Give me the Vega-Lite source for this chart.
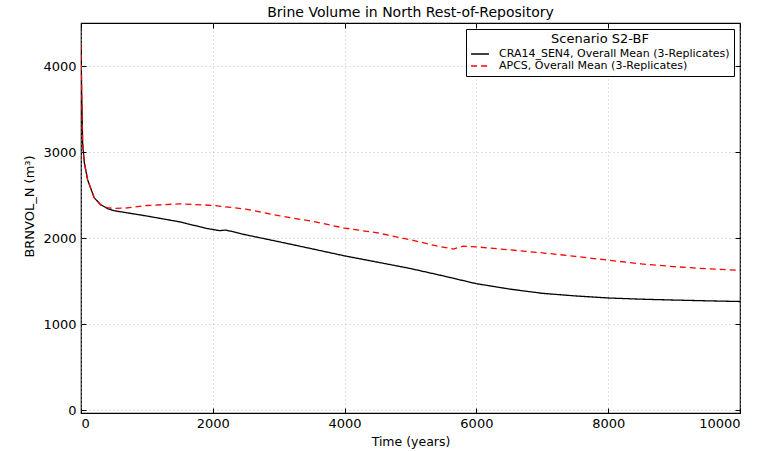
{
  "$schema": "https://vega.github.io/schema/vega-lite/v6.json",
  "width": 659,
  "height": 390,
  "autosize": {"type": "none"},
  "padding": {"left": 81, "top": 23, "right": 27, "bottom": 38},
  "background": "white",
  "config": {
    "font": "DejaVu Sans",
    "view": {"stroke": "#000", "strokeWidth": 1.2},
    "axis": {
      "labelFont": "DejaVu Sans",
      "titleFont": "DejaVu Sans",
      "labelFontSize": 13,
      "titleFontSize": 12.5,
      "labelColor": "#000",
      "titleColor": "#000",
      "titleFontWeight": "normal",
      "domain": false,
      "tickColor": "#000",
      "tickSize": -5,
      "labelPadding": 9,
      "format": "d",
      "grid": true,
      "gridColor": "#b0b0b0",
      "gridDash": [1, 3],
      "gridWidth": 0.8
    }
  },
  "title": {
    "text": "Brine Volume in North Rest-of-Repository",
    "font": "DejaVu Sans",
    "fontSize": 14,
    "fontWeight": "normal",
    "color": "#000",
    "anchor": "middle",
    "offset": 3
  },
  "data": {
    "values": [
      {"t": 0, "v": 4250, "s": "CRA14_SEN4, Overall Mean (3-Replicates)"},
      {"t": 10, "v": 3700, "s": "CRA14_SEN4, Overall Mean (3-Replicates)"},
      {"t": 25, "v": 3100, "s": "CRA14_SEN4, Overall Mean (3-Replicates)"},
      {"t": 50, "v": 2880, "s": "CRA14_SEN4, Overall Mean (3-Replicates)"},
      {"t": 100, "v": 2680, "s": "CRA14_SEN4, Overall Mean (3-Replicates)"},
      {"t": 200, "v": 2470, "s": "CRA14_SEN4, Overall Mean (3-Replicates)"},
      {"t": 300, "v": 2390, "s": "CRA14_SEN4, Overall Mean (3-Replicates)"},
      {"t": 400, "v": 2345, "s": "CRA14_SEN4, Overall Mean (3-Replicates)"},
      {"t": 500, "v": 2320, "s": "CRA14_SEN4, Overall Mean (3-Replicates)"},
      {"t": 1000, "v": 2258, "s": "CRA14_SEN4, Overall Mean (3-Replicates)"},
      {"t": 1500, "v": 2190, "s": "CRA14_SEN4, Overall Mean (3-Replicates)"},
      {"t": 1900, "v": 2115, "s": "CRA14_SEN4, Overall Mean (3-Replicates)"},
      {"t": 2100, "v": 2088, "s": "CRA14_SEN4, Overall Mean (3-Replicates)"},
      {"t": 2200, "v": 2095, "s": "CRA14_SEN4, Overall Mean (3-Replicates)"},
      {"t": 2500, "v": 2040, "s": "CRA14_SEN4, Overall Mean (3-Replicates)"},
      {"t": 3000, "v": 1960, "s": "CRA14_SEN4, Overall Mean (3-Replicates)"},
      {"t": 3500, "v": 1878, "s": "CRA14_SEN4, Overall Mean (3-Replicates)"},
      {"t": 4000, "v": 1795, "s": "CRA14_SEN4, Overall Mean (3-Replicates)"},
      {"t": 4500, "v": 1722, "s": "CRA14_SEN4, Overall Mean (3-Replicates)"},
      {"t": 5000, "v": 1648, "s": "CRA14_SEN4, Overall Mean (3-Replicates)"},
      {"t": 5500, "v": 1562, "s": "CRA14_SEN4, Overall Mean (3-Replicates)"},
      {"t": 6000, "v": 1472, "s": "CRA14_SEN4, Overall Mean (3-Replicates)"},
      {"t": 6500, "v": 1410, "s": "CRA14_SEN4, Overall Mean (3-Replicates)"},
      {"t": 7000, "v": 1360, "s": "CRA14_SEN4, Overall Mean (3-Replicates)"},
      {"t": 7500, "v": 1330, "s": "CRA14_SEN4, Overall Mean (3-Replicates)"},
      {"t": 8000, "v": 1306, "s": "CRA14_SEN4, Overall Mean (3-Replicates)"},
      {"t": 8500, "v": 1292, "s": "CRA14_SEN4, Overall Mean (3-Replicates)"},
      {"t": 9000, "v": 1282, "s": "CRA14_SEN4, Overall Mean (3-Replicates)"},
      {"t": 9500, "v": 1273, "s": "CRA14_SEN4, Overall Mean (3-Replicates)"},
      {"t": 10000, "v": 1265, "s": "CRA14_SEN4, Overall Mean (3-Replicates)"},
      {"t": 0, "v": 4250, "s": "APCS, Overall Mean (3-Replicates)"},
      {"t": 10, "v": 3700, "s": "APCS, Overall Mean (3-Replicates)"},
      {"t": 25, "v": 3100, "s": "APCS, Overall Mean (3-Replicates)"},
      {"t": 50, "v": 2880, "s": "APCS, Overall Mean (3-Replicates)"},
      {"t": 100, "v": 2680, "s": "APCS, Overall Mean (3-Replicates)"},
      {"t": 200, "v": 2470, "s": "APCS, Overall Mean (3-Replicates)"},
      {"t": 300, "v": 2385, "s": "APCS, Overall Mean (3-Replicates)"},
      {"t": 400, "v": 2355, "s": "APCS, Overall Mean (3-Replicates)"},
      {"t": 500, "v": 2347, "s": "APCS, Overall Mean (3-Replicates)"},
      {"t": 700, "v": 2352, "s": "APCS, Overall Mean (3-Replicates)"},
      {"t": 1000, "v": 2380, "s": "APCS, Overall Mean (3-Replicates)"},
      {"t": 1500, "v": 2400, "s": "APCS, Overall Mean (3-Replicates)"},
      {"t": 2000, "v": 2382, "s": "APCS, Overall Mean (3-Replicates)"},
      {"t": 2500, "v": 2338, "s": "APCS, Overall Mean (3-Replicates)"},
      {"t": 3000, "v": 2262, "s": "APCS, Overall Mean (3-Replicates)"},
      {"t": 3500, "v": 2198, "s": "APCS, Overall Mean (3-Replicates)"},
      {"t": 4000, "v": 2118, "s": "APCS, Overall Mean (3-Replicates)"},
      {"t": 4500, "v": 2062, "s": "APCS, Overall Mean (3-Replicates)"},
      {"t": 5000, "v": 1982, "s": "APCS, Overall Mean (3-Replicates)"},
      {"t": 5400, "v": 1910, "s": "APCS, Overall Mean (3-Replicates)"},
      {"t": 5650, "v": 1874, "s": "APCS, Overall Mean (3-Replicates)"},
      {"t": 5800, "v": 1908, "s": "APCS, Overall Mean (3-Replicates)"},
      {"t": 6000, "v": 1900, "s": "APCS, Overall Mean (3-Replicates)"},
      {"t": 6500, "v": 1865, "s": "APCS, Overall Mean (3-Replicates)"},
      {"t": 7000, "v": 1830, "s": "APCS, Overall Mean (3-Replicates)"},
      {"t": 7500, "v": 1790, "s": "APCS, Overall Mean (3-Replicates)"},
      {"t": 8000, "v": 1745, "s": "APCS, Overall Mean (3-Replicates)"},
      {"t": 8500, "v": 1702, "s": "APCS, Overall Mean (3-Replicates)"},
      {"t": 9000, "v": 1670, "s": "APCS, Overall Mean (3-Replicates)"},
      {"t": 9500, "v": 1645, "s": "APCS, Overall Mean (3-Replicates)"},
      {"t": 10000, "v": 1627, "s": "APCS, Overall Mean (3-Replicates)"}
    ]
  },
  "layer": [
    {
      "transform": [{"filter": "datum.s === 'CRA14_SEN4, Overall Mean (3-Replicates)'"}],
      "mark": {"type": "line", "strokeWidth": 1.3, "clip": true},
      "encoding": {
        "x": {
          "field": "t", "type": "quantitative",
          "scale": {"domain": [0, 10000], "nice": false, "zero": false},
          "axis": {"title": "Time (years)", "values": [0, 2000, 4000, 6000, 8000, 10000], "titlePadding": 5}
        },
        "y": {
          "field": "v", "type": "quantitative",
          "scale": {"domain": [-30, 4500], "nice": false, "zero": false},
          "axis": {
            "title": "BRNVOL_N  (m³)",
            "values": [0, 1000, 2000, 3000, 4000],
            "labelPadding": 10,
            "titleFontSize": 13,
            "titlePadding": 6,
            "titleY": 183
          }
        },
        "color": {
          "field": "s", "type": "nominal",
          "scale": {
            "domain": ["CRA14_SEN4, Overall Mean (3-Replicates)", "APCS, Overall Mean (3-Replicates)"],
            "range": ["#000000", "#ff0000"]
          },
          "legend": {
            "title": "Scenario S2-BF",
            "orient": "top-right",
            "offset": 6,
            "titleFontSize": 13,
            "titleFontWeight": "normal",
            "titleColor": "#000",
            "titleAnchor": "middle",
            "titlePadding": 2,
            "labelFontSize": 11,
            "labelColor": "#000",
            "labelLimit": 400,
            "labelOffset": 9,
            "symbolType": "stroke",
            "symbolSize": 320,
            "symbolStrokeWidth": 1.3,
            "clipHeight": 12,
            "rowPadding": 0,
            "padding": 4,
            "strokeColor": "#000",
            "fillColor": "white",
            "cornerRadius": 0
          }
        },
        "strokeDash": {
          "field": "s", "type": "nominal",
          "scale": {
            "domain": ["CRA14_SEN4, Overall Mean (3-Replicates)", "APCS, Overall Mean (3-Replicates)"],
            "range": [[1, 0], [6, 4]]
          },
          "legend": null
        }
      }
    },
    {
      "transform": [{"filter": "datum.s === 'APCS, Overall Mean (3-Replicates)'"}],
      "mark": {"type": "line", "strokeWidth": 1.3, "clip": true},
      "encoding": {
        "x": {
          "field": "t", "type": "quantitative",
          "axis": {"orient": "top", "title": null, "labels": false, "grid": false, "values": [0, 2000, 4000, 6000, 8000, 10000]}
        },
        "y": {
          "field": "v", "type": "quantitative",
          "axis": {"orient": "right", "title": null, "labels": false, "grid": false, "values": [0, 1000, 2000, 3000, 4000]}
        },
        "color": {"field": "s", "type": "nominal"},
        "strokeDash": {"field": "s", "type": "nominal"}
      }
    }
  ],
  "resolve": {"axis": {"x": "independent", "y": "independent"}}
}
